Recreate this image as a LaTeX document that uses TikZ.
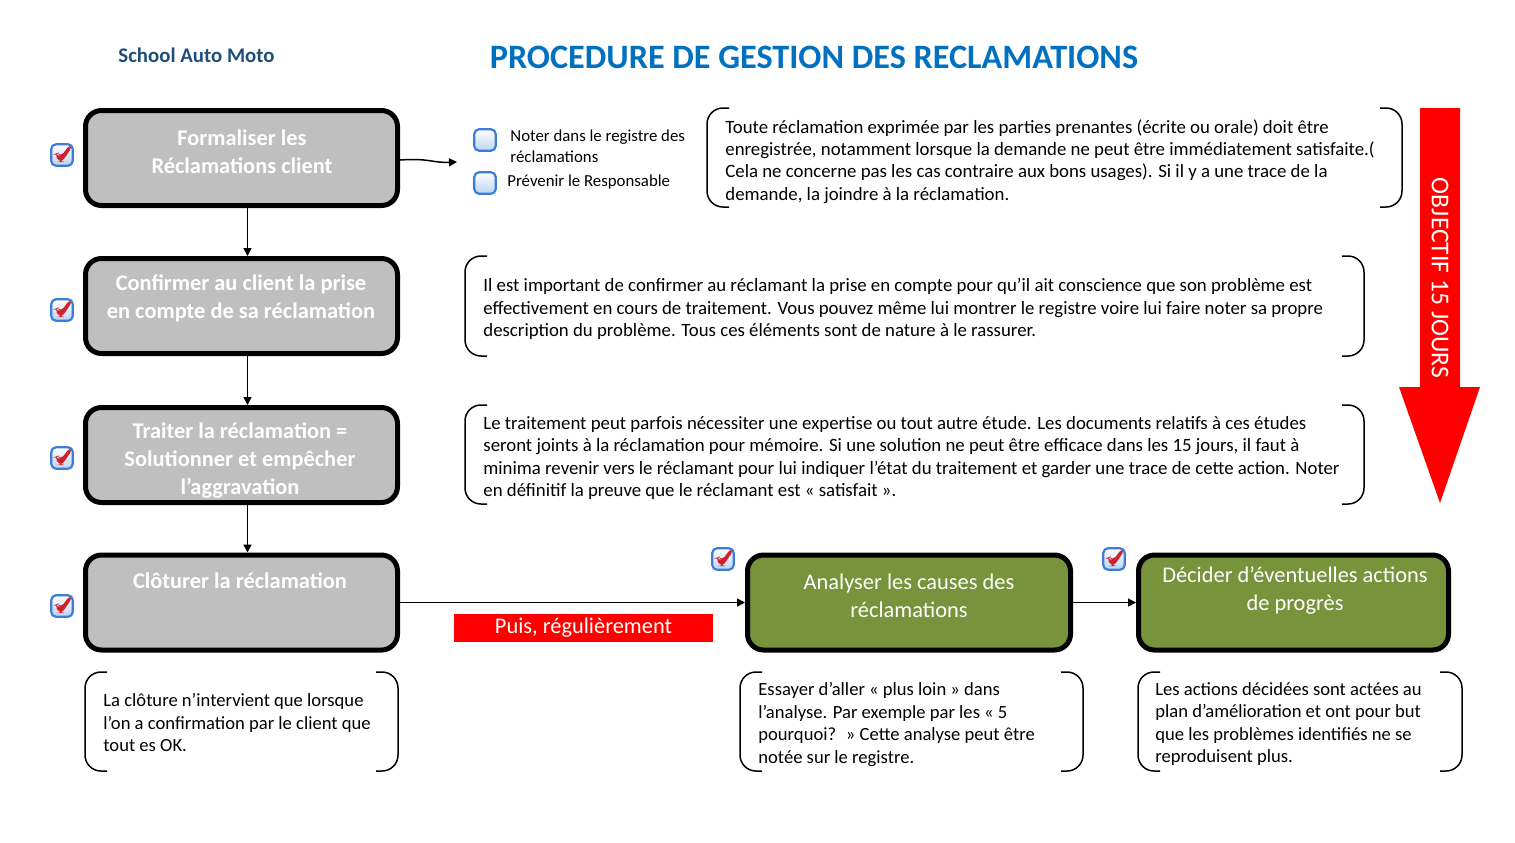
\documentclass[tikz,border=0pt]{standalone}
\usepackage{fontspec}
\setmainfont{Carlito}
\usetikzlibrary{arrows.meta,calc}
\definecolor{boxgray}{HTML}{BFBFBF}
\definecolor{boxgreen}{HTML}{77933C}
\definecolor{titleblue}{HTML}{0070C0}
\definecolor{darkblue}{HTML}{1F4E79}
\definecolor{cbblue}{HTML}{3C7DD9}
\definecolor{cbfill}{HTML}{BCD3F2}
\definecolor{chkred}{HTML}{D0202A}
\newcommand\brk[4]{%
  \draw[brk] (#1+22,#2) -- (#1,#2) -- (#1,#4) -- (#1+22,#4);
  \draw[brk] (#3-22,#2) -- (#3,#2) -- (#3,#4) -- (#3-22,#4);}
\begin{document}
\begin{tikzpicture}[x=0.5pt,y=-0.5pt,
  procbox/.style={draw=black, line width=2.5pt, rounded corners=8pt, minimum height=47.5pt, inner sep=0pt},
  graybox/.style={procbox, fill=boxgray, minimum width=156pt},
  greenbox/.style={procbox, fill=boxgreen},
  boxtext/.style={text=white, align=center, font=\fontsize{11.2}{14}\selectfont\bfseries, inner sep=0pt},
  gtext/.style={text=white, align=center, font=\fontsize{11.2}{14}\selectfont, inner sep=0pt},
  body/.style={anchor=north west, align=left, inner sep=0pt, font=\fontsize{9.4}{11.2}\selectfont},
  bodyb/.style={anchor=north west, align=left, inner sep=0pt, font=\fontsize{9.3}{11.25}\selectfont},
  listtext/.style={anchor=north west, align=left, inner sep=0pt, font=\fontsize{8.4}{10.5}\selectfont},
  brk/.style={draw=black, line width=0.75pt, rounded corners=8pt},
  arr/.style={draw=black, line width=0.75pt, -{Triangle[length=4pt,width=4pt]}},
  chkbox/.style={draw=cbblue, line width=1.1pt, rounded corners=2.5pt, minimum size=10.8pt, inner sep=0pt, top color=white, bottom color=cbfill},
  checked/.style={chkbox, path picture={
     \fill[chkred] ([shift={(1.5pt,5.8pt)}]path picture bounding box.south west)
        -- ++(1.7pt,0.7pt) -- ++(1.5pt,-2.1pt) -- ++(4.8pt,6.6pt) -- ++(1.5pt,-0.7pt)
        -- ++(-5.6pt,-8.4pt) -- ++(-1.4pt,0pt) -- cycle;}}
]
\useasboundingbox (0,0) rectangle (1515,842);

% titles
\node[text=darkblue, font=\fontsize{10.4}{12}\selectfont\bfseries, inner sep=0pt] (school) at (196.5,55) {School Auto Moto};
\node[text=titleblue, font=\fontsize{17.1}{20}\selectfont\bfseries, inner sep=0pt] (title) at (814,57) {PROCEDURE DE GESTION DES RECLAMATIONS};

% process boxes
\node[graybox] (b1) at (241.5,158) {};
\node[graybox] (b2) at (241.5,306) {};
\node[graybox] (b3) at (241.5,455) {};
\node[graybox] (b4) at (241.5,602.5) {};
\node[greenbox, minimum width=161.5pt] (b5) at (909,602.5) {};
\node[greenbox, minimum width=155pt] (b6) at (1293.5,602.5) {};

\node[boxtext] (b1t) at (242,152) {Formaliser les\\Réclamations client};
\node[boxtext] (b2t) at (241,298) {Confirmer au client la prise\\en compte de sa réclamation};
\node[boxtext] (b3t) at (240,461) {Traiter la réclamation =\\Solutionner et empêcher\\l’aggravation};
\node[boxtext] (b4t) at (240,581) {Clôturer la réclamation};
\node[gtext] (b5t) at (909,596) {Analyser les causes des\\réclamations};
\node[gtext] (b6t) at (1295,591) {Décider d’éventuelles actions\\de progrès};

% connectors
\draw[arr] ([xshift=3pt]b1.south) -- ([xshift=3pt]b2.north);
\draw[arr] ([xshift=3pt]b2.south) -- ([xshift=3pt]b3.north);
\draw[arr] ([xshift=3pt]b3.south) -- ([xshift=3pt]b4.north);
\draw[arr] (b4.east) -- (b5.west);
\draw[arr] (b5.east) -- (b6.west);
\coordinate (lst) at (457,162);
\draw[arr] ([yshift=-1pt]b1.east) .. controls (430,158) and (432,163) .. (lst);

% checkboxes
\node[checked] (k1) at (62,155) {};
\node[checked] (k2) at (62,310) {};
\node[checked] (k3) at (62,458) {};
\node[checked] (k4) at (62,606) {};
\node[checked] (k5) at (723,559) {};
\node[checked] (k6) at (1114,559) {};
\node[chkbox] (e1) at (485,140) {};
\node[chkbox] (e2) at (485,183) {};
\node[listtext] (l1) at (510,129) {Noter dans le registre des\\réclamations};
\node[listtext] (l2) at (507,174) {Prévenir le Responsable};

% brackets with comments
\brk{707}{108}{1402}{207}
\node[body] (t1) at (725,119) {Toute réclamation exprimée par les parties prenantes (écrite ou orale) doit être\\
enregistrée, notamment lorsque la demande ne peut être immédiatement satisfaite.(\\
Cela ne concerne pas les cas contraire aux bons usages). Si il y a une trace de la\\
demande, la joindre à la réclamation.};

\brk{465}{256}{1364}{356}
\node[body] (t2) at (483,278) {Il est important de confirmer au réclamant la prise en compte pour qu’il ait conscience que son problème est\\
effectivement en cours de traitement. Vous pouvez même lui montrer le registre voire lui faire noter sa propre\\
description du problème. Tous ces éléments sont de nature à le rassurer.};

\brk{465}{405}{1364}{504}
\node[body] (t3) at (483,416) {Le traitement peut parfois nécessiter une expertise ou tout autre étude. Les documents relatifs à ces études\\
seront joints à la réclamation pour mémoire. Si une solution ne peut être efficace dans les 15 jours, il faut à\\
minima revenir vers le réclamant pour lui indiquer l’état du traitement et garder une trace de cette action. Noter\\
en définitif la preuve que le réclamant est «~satisfait~».};

\brk{85}{672}{398}{771}
\node[bodyb] (t4) at (103,693) {La clôture n’intervient que lorsque\\l’on a confirmation par le client que\\tout es OK.};

\brk{740}{672}{1083}{771}
\node[bodyb] (t5) at (758,682) {Essayer d’aller «~plus loin~» dans\\l’analyse. Par exemple par les «~5\\pourquoi?~ »~Cette analyse peut être\\notée sur le registre.};

\brk{1138}{672}{1462}{771}
\node[bodyb] (t6) at (1155,682) {Les actions décidées sont actées au\\plan d’amélioration et ont pour but\\que les problèmes identifiés ne se\\reproduisent plus.};

% red label
\node[fill=red, text=white, minimum width=129.5pt, minimum height=14pt, inner sep=0pt, font=\fontsize{11.2}{13}\selectfont] (puis) at (583.5,628) {\raisebox{-0.6pt}{Puis, régulièrement}};

% big red arrow
\fill[red] (1420,108) -- (1460,108) -- (1460,387) -- (1480,387) -- (1440,503) -- (1399,387) -- (1420,387) -- cycle;
\node[text=white, rotate=-90, inner sep=0pt, font=\fontsize{12.8}{14}\selectfont] (obj) at (1440,278) {OBJECTIF 15 JOURS};
\end{tikzpicture}
\end{document}
